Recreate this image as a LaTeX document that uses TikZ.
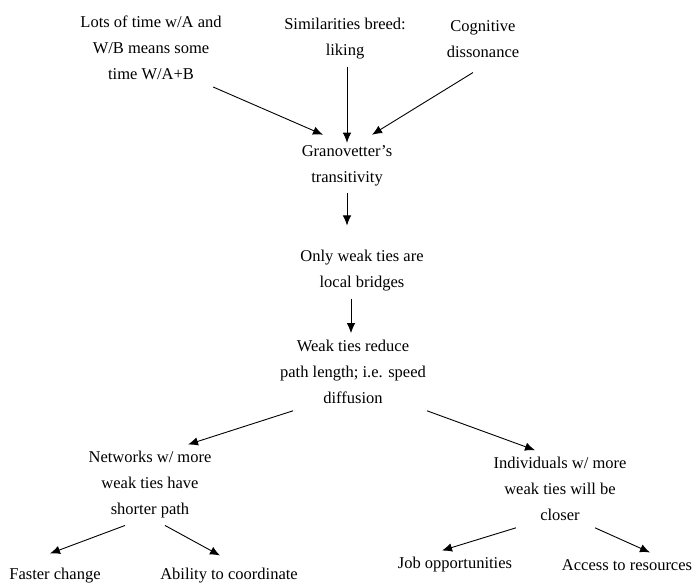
\documentclass[tikz,border=0pt]{standalone}
\usepackage{fontspec}
\setmainfont{Liberation Serif}
\usepackage{tikz}
\usetikzlibrary{arrows.meta, positioning}

\begin{document}
\begin{tikzpicture}[x=1pt, y=-1pt, >={Latex[length=10pt,width=8.5pt]}, line width=0.9pt,
  every node/.style={align=center, inner sep=2pt, outer sep=5pt, font=\fontsize{16.5}{26}\selectfont}]
\useasboundingbox (0,0) rectangle (694,586);

    \node (src1) at (151,48) {Lots of time w/A and\\W/B means some\\time W/A+B};
    \node (src2) at (345,39) {Similarities breed:\\liking};
    \node (src3) at (483,39) {Cognitive\\dissonance};
    \node (trans) at (347,166) {Granovetter's\\transitivity};
    \node (bridge) at (362,271) {Only weak ties are\\local bridges};
    \node (reduce) at (353,372) {Weak ties reduce\\path length; i.e. speed\\diffusion};
    \node (netw) at (150,485) {Networks w/ more\\weak ties have\\shorter path};
    \node (indiv) at (560,489) {Individuals w/ more\\weak ties will be\\closer};
    \node (fast) at (55,576) {Faster change};
    \node (coord) at (229,576) {Ability to coordinate};
    \node (job) at (455,565) {Job opportunities};
    \node (access) at (627,565) {Access to resources};

\draw[->] ([xshift=62pt]src1.south) -- ([xshift=-24pt,yshift=4pt]trans.north);
\draw[->] (src2.south -| trans.north) -- ([yshift=-4pt]trans.north);
\draw[->] ([xshift=-10pt,yshift=-8pt]src3.south) -- ([xshift=25pt,yshift=4pt]trans.north);
\draw[->, shorten >=18pt] (trans.south) -- (trans.south |- bridge.north);
\draw[->] ([xshift=-2pt]reduce.north |- bridge.south) -- ([xshift=-2pt]reduce.north);
\draw[->] ([xshift=-60pt]reduce.south) -- ([xshift=38pt]netw.north);
\draw[->] ([xshift=74pt]reduce.south) -- ([xshift=-25pt]indiv.north);
\draw[->] ([xshift=-25pt]netw.south) -- ([xshift=-5pt,yshift=8pt]fast.north);
\draw[->] ([xshift=15pt]netw.south) -- ([xshift=-9pt,yshift=6pt]coord.north);
\draw[->] ([xshift=-44pt]indiv.south) -- ([xshift=-13pt]job.north);
\draw[->] ([xshift=35pt]indiv.south) -- ([xshift=23pt]access.north);
\end{tikzpicture}
\end{document}
